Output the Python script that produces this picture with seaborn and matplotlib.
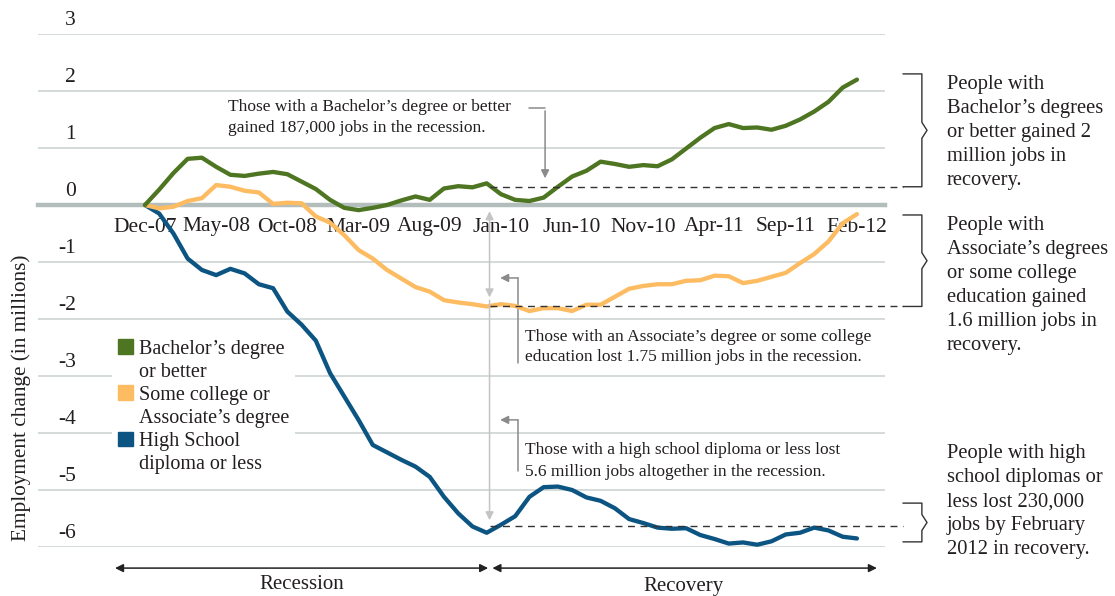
import matplotlib
matplotlib.use("Agg")
import matplotlib.pyplot as plt
import matplotlib.transforms as mtransforms
from matplotlib.patches import Patch
import numpy as np
import pandas as pd
import seaborn as sns

# monthly employment change (millions), Dec-07 .. Feb-12
bachelor = [0.00, 0.27, 0.56, 0.81, 0.83, 0.67, 0.53, 0.51, 0.55, 0.58,
            0.54, 0.41, 0.28, 0.09, -0.05, -0.09, -0.05, 0.00, 0.08, 0.15,
            0.09, 0.29, 0.33, 0.31, 0.38, 0.19, 0.09, 0.07, 0.13, 0.32,
            0.50, 0.60, 0.76, 0.72, 0.67, 0.70, 0.68, 0.80, 0.99, 1.18,
            1.35, 1.42, 1.35, 1.36, 1.32, 1.39, 1.50, 1.64, 1.81, 2.06,
            2.20]
some_college = [0.00, -0.06, -0.03, 0.07, 0.12, 0.35, 0.32, 0.25, 0.22, 0.02,
                0.04, 0.03, -0.20, -0.31, -0.53, -0.79, -0.94, -1.14, -1.29, -1.44,
                -1.52, -1.67, -1.71, -1.74, -1.78, -1.74, -1.77, -1.86, -1.81, -1.81,
                -1.86, -1.75, -1.75, -1.61, -1.47, -1.42, -1.39, -1.39, -1.33, -1.32,
                -1.24, -1.25, -1.37, -1.33, -1.26, -1.19, -1.02, -0.86, -0.64, -0.32,
                -0.16]
high_school = [0.00, -0.15, -0.50, -0.94, -1.14, -1.23, -1.12, -1.20, -1.39, -1.46,
               -1.87, -2.10, -2.38, -2.95, -3.36, -3.77, -4.21, -4.34, -4.47, -4.59,
               -4.77, -5.12, -5.41, -5.64, -5.75, -5.61, -5.46, -5.12, -4.95, -4.94,
               -5.00, -5.13, -5.19, -5.32, -5.51, -5.58, -5.66, -5.68, -5.67, -5.79,
               -5.86, -5.94, -5.92, -5.96, -5.90, -5.78, -5.75, -5.66, -5.71, -5.82,
               -5.85]
tick_labels = ["Dec-07", "May-08", "Oct-08", "Mar-09", "Aug-09", "Jan-10",
               "Jun-10", "Nov-10", "Apr-11", "Sep-11", "Feb-12"]
series_names = ["Bachelor’s degree or better", "Some college or Associate’s degree",
                "High School diploma or less"]
colors = ["#4e7521", "#fdbb62", "#0c5582"]

recession_end = 24
recession_levels = [0.32, -1.78, -5.63]          # dashed reference lines
bracket_spans = [(0.32, 2.30), (-1.78, -0.175), (-5.91, -5.23)]
side_notes = [
    "People with\nBachelor’s degrees\nor better gained 2\nmillion jobs in\nrecovery.",
    "People with\nAssociate’s degrees\nor some college\neducation gained\n1.6 million jobs in\nrecovery.",
    "People with high\nschool diplomas or\nless lost 230,000\njobs by February\n2012 in recovery.",
]

TEXT = "#231f20"
GRID = "#c9d1d0"
ZERO = "#b3bebc"
ARROW = "#8a8a8a"
LIGHT = "#c4c4c4"

sns.set_theme(style="white")
plt.rcParams["font.family"] = ["Liberation Serif", "DejaVu Serif"]
plt.rcParams["text.color"] = TEXT

months = np.arange(len(bachelor))
df = pd.DataFrame({
    "month": np.tile(months, 3),
    "value": high_school + some_college + bachelor,
    "group": [series_names[2]] * len(months) + [series_names[1]] * len(months)
             + [series_names[0]] * len(months),
})

fig = plt.figure(figsize=(11.15, 5.96), dpi=100)
ax = fig.add_axes([38 / 1115, 49 / 596, 847 / 1115, 513 / 596])

sns.lineplot(data=df, x="month", y="value", hue="group",
             hue_order=[series_names[2], series_names[1], series_names[0]],
             palette=[colors[2], colors[1], colors[0]],
             linewidth=3.1, legend=False, ax=ax, zorder=3)

ax.set_xlim(-7.51, 51.97)
ax.set_ylim(-6, 3)
ax.set_xlabel("")
ax.set_ylabel("Employment change (in millions)", fontsize=15.3, color=TEXT)
ax.yaxis.set_label_coords(-0.008, 0.29)

for side in ["top", "right", "left"]:
    ax.spines[side].set_visible(False)
ax.spines["bottom"].set_position(("data", 0))
ax.spines["bottom"].set_color(ZERO)
ax.spines["bottom"].set_linewidth(3.2)
ax.spines["bottom"].set_zorder(2)

ax.set_xticks(months[::5])
ax.set_xticklabels(tick_labels, fontsize=15.5, color=TEXT)
ax.tick_params(axis="x", length=0, pad=9)

yt = np.arange(-6, 4)
ax.set_yticks(yt)
ax.set_yticklabels([])
ax.tick_params(axis="y", length=0)
ax.grid(axis="y", color=GRID, linewidth=1.1)
ax.set_axisbelow(True)
ytrans = mtransforms.blended_transform_factory(ax.transAxes, ax.transData)
for v in yt:
    ax.text(0.045, v + 0.24, f"{v}", transform=ytrans, ha="right", va="center",
            fontsize=15.5, color=TEXT)

# dashed reference levels and brackets
bx0, bx1, bx2 = 53.23, 54.56, 54.92
for lvl in recession_levels:
    ax.plot([recession_end + 0.2, bx0], [lvl, lvl], color="#333333", lw=1.0,
            ls=(0, (5, 4)), clip_on=False, zorder=4)
for (lo, hi) in bracket_spans:
    mid = (lo + hi) / 2
    ax.plot([bx0, bx1, bx1, bx2, bx1, bx1, bx0],
            [hi, hi, mid + 0.14, mid, mid - 0.14, lo, lo],
            color="#333333", lw=1.0, clip_on=False)

for note, top in zip(side_notes, [75, 216, 444]):
    fig.text(947 / 1115, 1 - top / 596, note, ha="left", va="top",
             fontsize=14.8, linespacing=1.36)

# callouts
ax.text(5.83, 1.86, "Those with a Bachelor’s degree or better\ngained 187,000 jobs in the recession.",
        ha="left", va="top", fontsize=12.5, linespacing=1.38)
ax.plot([27.0, 28.1], [1.70, 1.70], color=ARROW, lw=1.1)
ax.annotate("", xy=(28.1, 0.42), xytext=(28.1, 1.70),
            arrowprops=dict(arrowstyle="-|>", color=ARROW, lw=1.1, mutation_scale=12))

ax.annotate("", xy=(recession_end + 0.2, -0.06), xytext=(recession_end + 0.2, -1.67),
            arrowprops=dict(arrowstyle="<|-|>", color=LIGHT, lw=1.1, mutation_scale=12))
ax.annotate("", xy=(recession_end + 0.2, -5.58), xytext=(recession_end + 0.2, -1.67),
            arrowprops=dict(arrowstyle="-|>", color=LIGHT, lw=1.1, mutation_scale=12,
                            shrinkA=0))

ax.plot([26.2, 26.2], [-1.28, -2.78], color=ARROW, lw=1.1)
ax.annotate("", xy=(24.75, -1.28), xytext=(26.2, -1.28),
            arrowprops=dict(arrowstyle="-|>", color=ARROW, lw=1.1, mutation_scale=12, shrinkA=0))
ax.text(26.7, -2.17, "Those with an Associate’s degree or some college\neducation lost 1.75 million jobs in the recession.",
        ha="left", va="top", fontsize=12.5, linespacing=1.38)

ax.plot([26.2, 26.2], [-3.77, -4.67], color=ARROW, lw=1.1)
ax.annotate("", xy=(24.75, -3.77), xytext=(26.2, -3.77),
            arrowprops=dict(arrowstyle="-|>", color=ARROW, lw=1.1, mutation_scale=12, shrinkA=0))
ax.text(26.7, -4.16, "Those with a high school diploma or less lost\n5.6 million jobs altogether in the recession.",
        ha="left", va="top", fontsize=12.5, linespacing=1.45)

# recession / recovery spans
ax.annotate("", xy=(-2.1, -6.37), xytext=(recession_end + 0.1, -6.37), annotation_clip=False,
            arrowprops=dict(arrowstyle="<|-|>", color="#222222", lw=1.1, mutation_scale=12,
                            shrinkA=0, shrinkB=0))
ax.annotate("", xy=(recession_end + 0.4, -6.37), xytext=(51.4, -6.37), annotation_clip=False,
            arrowprops=dict(arrowstyle="<|-|>", color="#222222", lw=1.1, mutation_scale=12,
                            shrinkA=0, shrinkB=0))
ax.text(11.0, -6.66, "Recession", ha="center", va="center", fontsize=15, clip_on=False)
ax.text(37.8, -6.69, "Recovery", ha="center", va="center", fontsize=15, clip_on=False)

# legend: square on first line of each two-line label
blank = Patch(facecolor="none", edgecolor="none")
handles = [Patch(color=colors[0]), blank, Patch(color=colors[1]), blank, Patch(color=colors[2]), blank]
labels = ["Bachelor’s degree", "or better", "Some college or", "Associate’s degree",
          "High School", "diploma or less"]
leg = ax.legend(handles, labels, loc="upper left", bbox_to_anchor=(0.075, 0.436),
                frameon=True, facecolor="white", edgecolor="none", framealpha=1,
                fontsize=14.5, handlelength=0.75, handleheight=0.75, handletextpad=0.3,
                labelspacing=0.18, borderpad=0.3, fancybox=False)
leg.set_zorder(5)

fig.savefig("out.png", dpi=100)
